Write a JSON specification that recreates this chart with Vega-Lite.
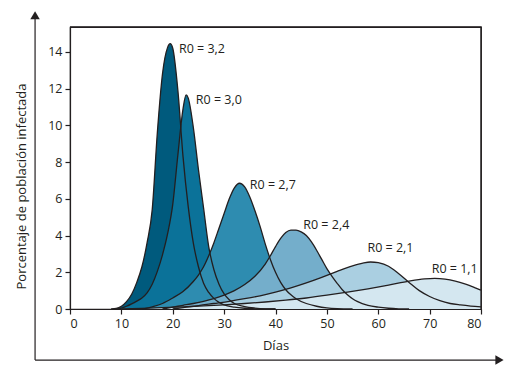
{
  "$schema": "https://vega.github.io/schema/vega-lite/v6.json",
  "width": 411,
  "height": 282,
  "autosize": "none",
  "padding": {"left": 70, "top": 27, "right": 37, "bottom": 67},
  "background": "white",
  "config": {
    "view": {"stroke": "#231f20", "strokeWidth": 1.2},
    "font": "Open Sans",
    "axis": {
      "domainColor": "#231f20", "tickColor": "#231f20", "labelColor": "#231f20", "titleColor": "#231f20",
      "labelFontSize": 12.5, "titleFontSize": 13, "titleFontWeight": "normal",
      "tickSize": 5, "grid": false, "domainWidth": 1.2, "tickWidth": 1.2, "labelPadding": 3
    }
  },
  "datasets": {
    "curves": [
      {"s":"3,2","d":8,"v":0},{"s":"3,2","d":9,"v":0.03},{"s":"3,2","d":10,"v":0.15},{"s":"3,2","d":11,"v":0.4},{"s":"3,2","d":12,"v":0.8},{"s":"3,2","d":13,"v":1.45},{"s":"3,2","d":14,"v":2.3},{"s":"3,2","d":15,"v":3.6},{"s":"3,2","d":16,"v":5.4},{"s":"3,2","d":17,"v":9.6},{"s":"3,2","d":18,"v":12.8},{"s":"3,2","d":19,"v":14.25},{"s":"3,2","d":19.5,"v":14.45},{"s":"3,2","d":20,"v":14.2},{"s":"3,2","d":21,"v":11.9},{"s":"3,2","d":22,"v":8.3},{"s":"3,2","d":23,"v":5.6},{"s":"3,2","d":24,"v":3.6},{"s":"3,2","d":25,"v":2.3},{"s":"3,2","d":26,"v":1.4},{"s":"3,2","d":27,"v":0.9},{"s":"3,2","d":28,"v":0.58},{"s":"3,2","d":29,"v":0.36},{"s":"3,2","d":30,"v":0.22},{"s":"3,2","d":32,"v":0.1},{"s":"3,2","d":34,"v":0.04},{"s":"3,2","d":36,"v":0.01},{"s":"3,2","d":40,"v":0},
      {"s":"3,0","d":9,"v":0},{"s":"3,0","d":10,"v":0.05},{"s":"3,0","d":11,"v":0.15},{"s":"3,0","d":12,"v":0.28},{"s":"3,0","d":13,"v":0.43},{"s":"3,0","d":14,"v":0.6},{"s":"3,0","d":15,"v":0.88},{"s":"3,0","d":16,"v":1.35},{"s":"3,0","d":17,"v":2.05},{"s":"3,0","d":18,"v":2.95},{"s":"3,0","d":19,"v":4.1},{"s":"3,0","d":20,"v":5.7},{"s":"3,0","d":21,"v":8.4},{"s":"3,0","d":22,"v":10.9},{"s":"3,0","d":22.6,"v":11.66},{"s":"3,0","d":23,"v":11.5},{"s":"3,0","d":24,"v":9.9},{"s":"3,0","d":25,"v":7.6},{"s":"3,0","d":26,"v":5.5},{"s":"3,0","d":27,"v":3.4},{"s":"3,0","d":28,"v":2.15},{"s":"3,0","d":29,"v":1.35},{"s":"3,0","d":30,"v":0.82},{"s":"3,0","d":31,"v":0.5},{"s":"3,0","d":32,"v":0.3},{"s":"3,0","d":34,"v":0.13},{"s":"3,0","d":36,"v":0.05},{"s":"3,0","d":38,"v":0.01},{"s":"3,0","d":40,"v":0},
      {"s":"2,7","d":14,"v":0},{"s":"2,7","d":15,"v":0.05},{"s":"2,7","d":16,"v":0.12},{"s":"2,7","d":18,"v":0.3},{"s":"2,7","d":20,"v":0.6},{"s":"2,7","d":22,"v":0.95},{"s":"2,7","d":24,"v":1.5},{"s":"2,7","d":25,"v":1.85},{"s":"2,7","d":26,"v":2.3},{"s":"2,7","d":27,"v":2.9},{"s":"2,7","d":28,"v":3.6},{"s":"2,7","d":29,"v":4.4},{"s":"2,7","d":30,"v":5.2},{"s":"2,7","d":31,"v":6.0},{"s":"2,7","d":32,"v":6.6},{"s":"2,7","d":33,"v":6.85},{"s":"2,7","d":34,"v":6.65},{"s":"2,7","d":35,"v":6.1},{"s":"2,7","d":36,"v":5.35},{"s":"2,7","d":37,"v":4.5},{"s":"2,7","d":38,"v":3.55},{"s":"2,7","d":39,"v":2.7},{"s":"2,7","d":40,"v":2.0},{"s":"2,7","d":41,"v":1.45},{"s":"2,7","d":42,"v":1.05},{"s":"2,7","d":43,"v":0.77},{"s":"2,7","d":44,"v":0.56},{"s":"2,7","d":46,"v":0.3},{"s":"2,7","d":48,"v":0.15},{"s":"2,7","d":50,"v":0.06},{"s":"2,7","d":52,"v":0.02},{"s":"2,7","d":55,"v":0},
      {"s":"2,4","d":18,"v":0},{"s":"2,4","d":20,"v":0.1},{"s":"2,4","d":22,"v":0.2},{"s":"2,4","d":24,"v":0.3},{"s":"2,4","d":26,"v":0.42},{"s":"2,4","d":28,"v":0.57},{"s":"2,4","d":30,"v":0.76},{"s":"2,4","d":32,"v":1.0},{"s":"2,4","d":34,"v":1.33},{"s":"2,4","d":36,"v":1.78},{"s":"2,4","d":38,"v":2.45},{"s":"2,4","d":39,"v":2.9},{"s":"2,4","d":40,"v":3.4},{"s":"2,4","d":41,"v":3.85},{"s":"2,4","d":42,"v":4.17},{"s":"2,4","d":43,"v":4.3},{"s":"2,4","d":44,"v":4.3},{"s":"2,4","d":45,"v":4.2},{"s":"2,4","d":46,"v":4.0},{"s":"2,4","d":47,"v":3.65},{"s":"2,4","d":48,"v":3.2},{"s":"2,4","d":49,"v":2.7},{"s":"2,4","d":50,"v":2.2},{"s":"2,4","d":51,"v":1.78},{"s":"2,4","d":52,"v":1.4},{"s":"2,4","d":53,"v":1.05},{"s":"2,4","d":54,"v":0.78},{"s":"2,4","d":55,"v":0.56},{"s":"2,4","d":56,"v":0.4},{"s":"2,4","d":58,"v":0.2},{"s":"2,4","d":60,"v":0.1},{"s":"2,4","d":62,"v":0.04},{"s":"2,4","d":64,"v":0.01},{"s":"2,4","d":66,"v":0},
      {"s":"2,1","d":20,"v":0},{"s":"2,1","d":22,"v":0.08},{"s":"2,1","d":25,"v":0.18},{"s":"2,1","d":28,"v":0.3},{"s":"2,1","d":31,"v":0.42},{"s":"2,1","d":34,"v":0.56},{"s":"2,1","d":37,"v":0.72},{"s":"2,1","d":40,"v":0.92},{"s":"2,1","d":43,"v":1.15},{"s":"2,1","d":46,"v":1.42},{"s":"2,1","d":49,"v":1.72},{"s":"2,1","d":52,"v":2.05},{"s":"2,1","d":55,"v":2.35},{"s":"2,1","d":57,"v":2.5},{"s":"2,1","d":58.5,"v":2.56},{"s":"2,1","d":60,"v":2.52},{"s":"2,1","d":62,"v":2.33},{"s":"2,1","d":64,"v":1.92},{"s":"2,1","d":66,"v":1.45},{"s":"2,1","d":68,"v":1.0},{"s":"2,1","d":70,"v":0.68},{"s":"2,1","d":72,"v":0.45},{"s":"2,1","d":74,"v":0.3},{"s":"2,1","d":76,"v":0.22},{"s":"2,1","d":78,"v":0.16},{"s":"2,1","d":80,"v":0.12},
      {"s":"1,1","d":10,"v":0},{"s":"1,1","d":14,"v":0.03},{"s":"1,1","d":18,"v":0.07},{"s":"1,1","d":22,"v":0.12},{"s":"1,1","d":26,"v":0.17},{"s":"1,1","d":30,"v":0.23},{"s":"1,1","d":34,"v":0.3},{"s":"1,1","d":38,"v":0.38},{"s":"1,1","d":42,"v":0.48},{"s":"1,1","d":46,"v":0.6},{"s":"1,1","d":50,"v":0.75},{"s":"1,1","d":54,"v":0.92},{"s":"1,1","d":58,"v":1.1},{"s":"1,1","d":62,"v":1.3},{"s":"1,1","d":66,"v":1.52},{"s":"1,1","d":69,"v":1.64},{"s":"1,1","d":71,"v":1.67},{"s":"1,1","d":73,"v":1.63},{"s":"1,1","d":75,"v":1.52},{"s":"1,1","d":77,"v":1.35},{"s":"1,1","d":79,"v":1.14},{"s":"1,1","d":80,"v":1.03}
    ],
    "labels": [
      {"label":"R0 = 3,2","d":21.2,"v":14.16},
      {"label":"R0 = 3,0","d":24.5,"v":11.38},
      {"label":"R0 = 2,7","d":35.0,"v":6.75},
      {"label":"R0 = 2,4","d":45.4,"v":4.58},
      {"label":"R0 = 2,1","d":57.9,"v":3.3},
      {"label":"R0 = 1,1","d":70.4,"v":2.16}
    ],
    "frame": [
      {"i":1,"d":0,"v":15.36},
      {"i":2,"d":80,"v":15.36},
      {"i":3,"d":80,"v":0}
    ],
    "one": [{"k": 1}]
  },
  "layer": [
    {
      "data": {"name": "curves"},
      "mark": {"type": "area", "interpolate": "monotone"},
      "encoding": {
        "x": {"field": "d", "type": "quantitative", "scale": {"domain": [0, 80], "nice": false},
              "axis": {"values": [0,10,20,30,40,50,60,70,80], "title": "Días", "titlePadding": 10}},
        "y": {"field": "v", "type": "quantitative", "stack": null, "scale": {"domain": [0, 15.36], "nice": false},
              "axis": {"values": [0,2,4,6,8,10,12,14], "title": "Porcentaje de población infectada", "titlePadding": 19, "titleY": 159}},
        "color": {"field": "s", "type": "nominal", "legend": null,
                  "scale": {"domain": ["3,2","3,0","2,7","2,4","2,1","1,1"], "range": ["#005a7d","#0b7299","#2e8cb0","#74aecb","#aacfe1","#d4e7f0"]}}
      }
    },
    {
      "data": {"name": "curves"},
      "mark": {"type": "line", "interpolate": "monotone", "color": "#231f20", "strokeWidth": 1.3},
      "encoding": {
        "x": {"field": "d", "type": "quantitative"},
        "y": {"field": "v", "type": "quantitative"},
        "detail": {"field": "s"}
      }
    },
    {
      "data": {"name": "frame"},
      "mark": {"type": "line", "color": "#231f20", "strokeWidth": 1.3, "clip": false},
      "encoding": {
        "x": {"field": "d", "type": "quantitative"},
        "y": {"field": "v", "type": "quantitative"},
        "order": {"field": "i", "type": "quantitative"}
      }
    },
    {
      "data": {"name": "labels"},
      "mark": {"type": "text", "align": "left", "baseline": "middle", "fontSize": 12.5, "color": "#231f20"},
      "encoding": {
        "x": {"field": "d", "type": "quantitative"},
        "y": {"field": "v", "type": "quantitative"},
        "text": {"field": "label"}
      }
    },
    {
      "data": {"name": "one"},
      "mark": {"type": "rule", "color": "#231f20", "strokeWidth": 1.2, "clip": false},
      "encoding": {"x": {"datum": -6.8}, "y": {"datum": -2.78}, "y2": {"datum": 15.9}}
    },
    {
      "data": {"name": "one"},
      "mark": {"type": "rule", "color": "#231f20", "strokeWidth": 1.2, "clip": false},
      "encoding": {"y": {"datum": -2.78}, "x": {"datum": -6.8}, "x2": {"datum": 83.5}}
    },
    {
      "data": {"name": "one"},
      "mark": {"type": "point", "shape": "triangle-up", "filled": true, "color": "#231f20", "size": 90, "opacity": 1, "clip": false},
      "encoding": {"x": {"datum": -6.8}, "y": {"datum": 16.0}}
    },
    {
      "data": {"name": "one"},
      "mark": {"type": "point", "shape": "triangle-right", "filled": true, "color": "#231f20", "size": 90, "opacity": 1, "clip": false},
      "encoding": {"x": {"datum": 83.6}, "y": {"datum": -2.78}}
    }
  ]
}
